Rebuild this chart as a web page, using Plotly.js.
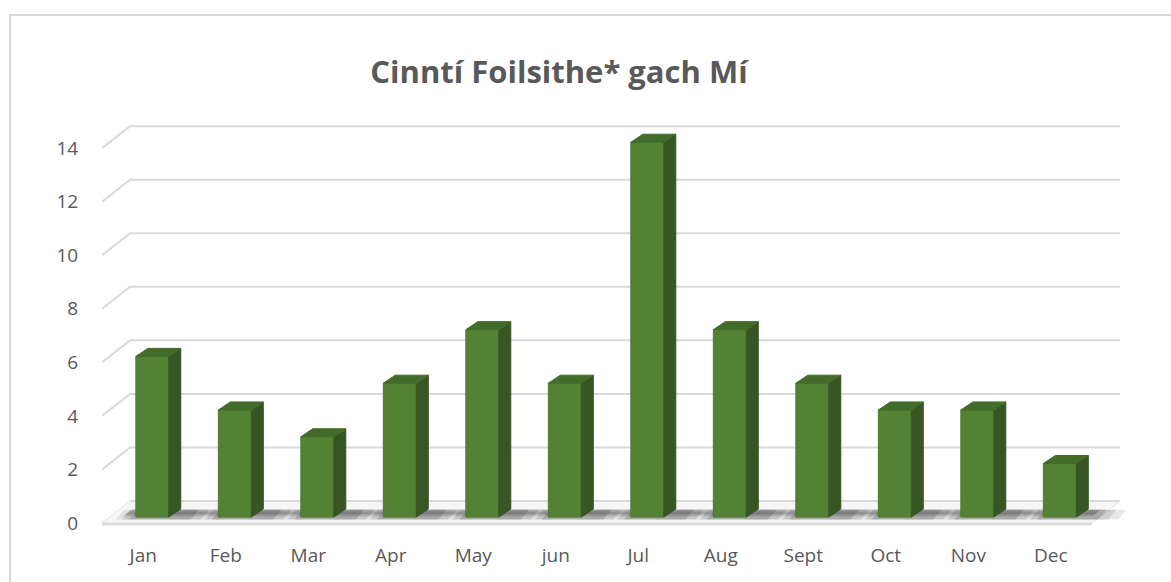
<!DOCTYPE html>
<html>
<head>
<meta charset="utf-8">
<script src="https://cdn.plot.ly/plotly-3.0.1.min.js"></script>
<style>
  html, body { margin:0; padding:0; background:#fff; }
  #chart { width:1171px; height:582px; }
  #frame { position:absolute; left:9px; top:14px; width:1200px; height:600px;
           border-left:2px solid #d9d9d9; border-top:2px solid #d9d9d9; pointer-events:none; }
</style>
</head>
<body>
<div id="chart"></div>
<div id="frame"></div>
<script>
// ---- data ----
const chartTitle = 'Cinntí Foilsithe* gach Mí';
const months = ['Jan','Feb','Mar','Apr','May','jun','Jul','Aug','Sept','Oct','Nov','Dec'];
const values = [6, 4, 3, 5, 7, 5, 14, 7, 5, 4, 4, 2];
const yTicks = [0, 2, 4, 6, 8, 10, 12, 14];

// ---- 3D geometry (in axis units) ----
const DX = 0.34, DY = 0.82;     // full depth of the wall/floor
const BX = 0.11, BY = 0.22;     // bar front face offset into depth
const BDX = 0.145, BDY = 0.30;  // bar depth
const HW = 0.2;                 // bar half width
const xs = months.map((m, i) => i);
const X0 = -0.5, X1 = months.length - 0.5;
const XR = [-0.5, 11.9], YR = [-0.3, 15.2];

const grey = '#d9d9d9';
const traces = [];

// floor
traces.push({type:'scatter', mode:'lines', x:[X0, X0+DX, X1+DX, X1, X0], y:[0, DY, DY, 0, 0],
  fill:'toself', fillcolor:'#f6f6f6', line:{color:'#e3e3e3', width:1}, hoverinfo:'skip'});
// soft floor shadow band (layers)
[[0.28, 0.64, 0.08], [0.34, 0.58, 0.10], [0.40, 0.52, 0.12]].forEach(([a, b, o]) => {
  traces.push({type:'scatter', mode:'lines',
    x:[X0+0.15+DX*a, X0+0.15+DX*b, X1-0.1+DX*b, X1-0.1+DX*a, X0+0.15+DX*a],
    y:[DY*a, DY*b, DY*b, DY*a, DY*a],
    fill:'toself', fillcolor:'rgba(0,0,0,' + o + ')', line:{width:0}, hoverinfo:'skip'});
});
// per-bar soft shadows
[[0.30, 0.10], [0.20, 0.13], [0.10, 0.17]].forEach(([g, o]) => {
  const sx = [], sy = [];
  xs.forEach(i => {
    const l = i + BX - HW - g * 0.8, r = i + BX + HW + BDX + g * 1.2;
    const y0 = BY * 0.6, y1 = BY + BDY * 0.9;
    sx.push(l, l + 0.1, r + 0.1, r, l, null);
    sy.push(y0, y1, y1, y0, y0, null);
  });
  traces.push({type:'scatter', mode:'lines', x:sx, y:sy, fill:'toself',
    fillcolor:'rgba(30,30,30,' + o + ')', line:{width:0}, hoverinfo:'skip'});
});
// floor front edge
traces.push({type:'scatter', mode:'lines', x:[X0, X1], y:[-0.04, -0.04],
  line:{color:'#dcdcdc', width:3}, hoverinfo:'skip'});

// gridlines (wall + side)
yTicks.forEach(t => {
  traces.push({type:'scatter', mode:'lines',
    x: t === 0 ? [X0+DX, X1+DX] : [X0, X0+DX, X1+DX],
    y: t === 0 ? [t+DY, t+DY] : [t, t+DY, t+DY],
    line:{color:grey, width:2}, hoverinfo:'skip'});
});

// bars on an overlay subplot, drawn above the grid
const barTraces = [];
{
  const sideX = [], sideY = [], topX = [], topY = [];
  xs.forEach((i, k) => {
    const v = values[k];
    const r = i + BX + HW, l = i + BX - HW;
    sideX.push(r, r + BDX, r + BDX, r, r, null);
    sideY.push(BY, BY + BDY, BY + BDY + v, BY + v, BY, null);
    topX.push(l, l + BDX, r + BDX, r, l, null);
    topY.push(BY + v, BY + BDY + v, BY + BDY + v, BY + v, BY + v, null);
  });
  barTraces.push({type:'bar', x: xs.map(i => i + BX), y: values, base: values.map(() => BY),
    width: 2*HW, marker:{color:'#548235', line:{color:'#4d7a31', width:1}}, hoverinfo:'skip',
    xaxis:'x2', yaxis:'y2'});
  barTraces.push({type:'scatter', mode:'lines', x:sideX, y:sideY, fill:'toself',
    fillcolor:'#375623', line:{color:'#375623', width:1}, hoverinfo:'skip', xaxis:'x2', yaxis:'y2'});
  barTraces.push({type:'scatter', mode:'lines', x:topX, y:topY, fill:'toself',
    fillcolor:'#436c2a', line:{color:'#436c2a', width:1}, hoverinfo:'skip', xaxis:'x2', yaxis:'y2'});
}

const font = 'Open Sans, Noto Sans, sans-serif';
const hidden = {range:null, showgrid:false, zeroline:false, showline:false, showticklabels:false,
                ticks:'', fixedrange:true};
const layout = {
  width:1171, height:582,
  margin:{l:102, r:46, t:116, b:51},
  paper_bgcolor:'rgba(0,0,0,0)', plot_bgcolor:'rgba(0,0,0,0)',
  showlegend:false, hovermode:false,
  title:{text:'<b>' + chartTitle + '</b>', x:559/1171, xref:'container', xanchor:'center',
         y:1 - 72/582, yref:'container', yanchor:'middle',
         font:{family:font, size:31, color:'#595959'}},
  xaxis:{range:XR, tickvals:xs, ticktext:months, showgrid:false, zeroline:false,
         showline:false, ticks:'outside', ticklen:7, tickcolor:'rgba(0,0,0,0)',
         tickfont:{family:font, size:19, color:'#595959'}, fixedrange:true},
  yaxis:{range:YR, tickvals:yTicks, showgrid:false, zeroline:false, showline:false,
         ticks:'outside', ticklen:19, tickcolor:'rgba(0,0,0,0)',
         tickfont:{family:font, size:19, color:'#595959'}, fixedrange:true},
  xaxis2:Object.assign({}, hidden, {range:XR, overlaying:'x'}),
  yaxis2:Object.assign({}, hidden, {range:YR, overlaying:'y'})
};
Plotly.newPlot('chart', traces.concat(barTraces), layout, {staticPlot:true, displayModeBar:false});
</script>
</body>
</html>
